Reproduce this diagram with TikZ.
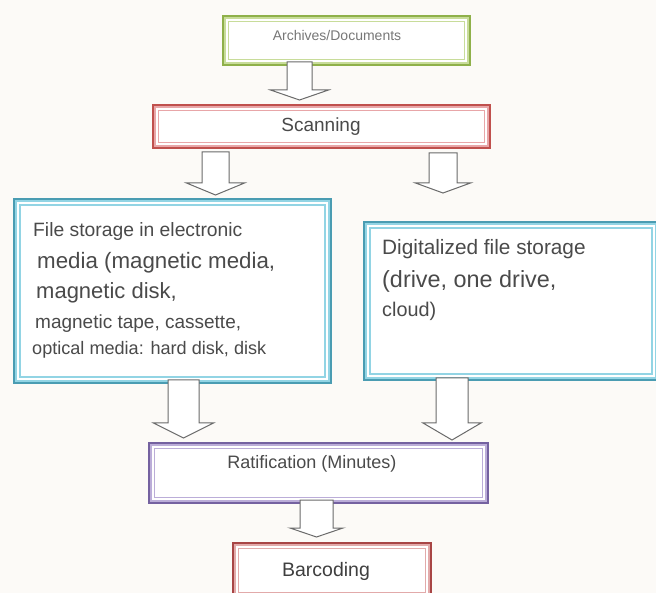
\documentclass[tikz,border=0pt]{standalone}
\usepackage{fontspec}
\setmainfont{Liberation Sans}
\definecolor{bgc}{HTML}{FCFAF7}
\definecolor{grnD}{HTML}{8FB04A}\definecolor{grnL}{HTML}{C8DC9A}
\definecolor{redD}{HTML}{C0504D}\definecolor{redL}{HTML}{E8A6A8}
\definecolor{tealD}{HTML}{4A9CB2}\definecolor{tealL}{HTML}{92D4E4}
\definecolor{purD}{HTML}{7461A0}\definecolor{purL}{HTML}{BBADD8}
\definecolor{brD}{HTML}{A84545}\definecolor{brL}{HTML}{E2AAAA}
\definecolor{txt}{HTML}{4A4A4A}
\definecolor{arr}{HTML}{6A6A6A}
\newcommand\fs[1]{\fontsize{#1}{#1}\selectfont}
\newcommand\blkarrow[7]{% name, cx, top, shoulder, tip, half shaft, half head
  \draw[arrowbox] (#2-#6,#3) -- (#2-#6,#4) -- (#2-#7,#4) -- (#2,#5) -- (#2+#7,#4) -- (#2+#6,#4) -- (#2+#6,#3) -- cycle;
  \coordinate (#1) at (#2,#5);}
\newcommand\inner[3]{% node, light colour, inset
  \draw[#2, line width=1.3pt] ([shift={(#3pt,-#3pt)}]#1.north west) rectangle ([shift={(-#3pt,#3pt)}]#1.south east);
  \draw[#2, line width=1.6pt] ([shift={(2.8pt,-2.8pt)}]#1.north west) rectangle ([shift={(-2.8pt,2.8pt)}]#1.south east);}
\begin{document}
\begin{tikzpicture}[x=1pt,y=-1pt,
  box/.style={draw=#1, line width=4pt, fill=white, inner sep=0pt, anchor=north west},
  arrowbox/.style={draw=arr, line width=1pt, fill=white, line join=miter},
  lbl/.style={text=txt, inner sep=0pt}]
\fill[bgc] (0,0) rectangle (656,593);
\useasboundingbox (0,0) rectangle (656,593);
% boxes
\node[box=grnD, minimum width=245pt, minimum height=47pt] (arch) at (222,15) {};
\inner{arch}{grnL}{6.5}
\node[box=redD, minimum width=335pt, minimum height=41pt] (scan) at (152,104) {};
\inner{scan}{redL}{6.5}
\node[box=tealD, minimum width=315pt, minimum height=182pt] (left) at (13,198) {};
\inner{left}{tealL}{7}
\node[box=tealD, minimum width=292pt, minimum height=156pt] (right) at (363,221) {};
\inner{right}{tealL}{7}
\node[box=purD, minimum width=337pt, minimum height=58pt] (rat) at (148,442) {};
\inner{rat}{purL}{6.5}
\node[box=brD, minimum width=196pt, minimum height=53pt] (bar) at (232,542) {};
\inner{bar}{brL}{6.5}
% texts
\node[lbl, text=txt!75] (tArch) at (337,36) {\fs{14}Archives/Documents};
\node[lbl] (tScan) at (321,127) {\fs{19}Scanning};
\node[lbl, anchor=base west] (l1) at (33,237) {\fs{19.3}File storage in electronic};
\node[lbl, anchor=base west] (l2) at (37,269) {\fs{22.3}media (magnetic media,};
\node[lbl, anchor=base west] (l3) at (36,299) {\fs{22}magnetic disk,};
\node[lbl, anchor=base west] (l4) at (35,329) {\fs{19}magnetic tape, cassette,};
\node[lbl, anchor=base west] (l5) at (32,355) {\fs{18.1}optical media: hard disk, disk};
\node[lbl, anchor=base west] (r1) at (382,255) {\fs{20.8}Digitalized file storage};
\node[lbl, anchor=base west] (r2) at (382,288) {\fs{23.4}(drive, one drive,};
\node[lbl, anchor=base west] (r3) at (382,317) {\fs{19.8}cloud)};
\node[lbl] (tRat) at (312,464) {\fs{18}Ratification (Minutes)};
\node[lbl, text=txt!85!black] (tBar) at (326,571) {\fs{19.5}Barcoding};
% arrows
\blkarrow{a1}{299.5}{62}{90}{100}{12.5}{29}
\blkarrow{a2}{215.5}{152}{183}{195}{13.5}{29}
\blkarrow{a3}{443}{153}{183}{193}{14}{27.5}
\blkarrow{a4}{183.5}{380}{423}{438}{15.5}{30}
\blkarrow{a5}{452}{378}{423}{440}{16}{29}
\blkarrow{a6}{316.5}{500}{528}{537}{16.5}{26.5}
\end{tikzpicture}
\end{document}
